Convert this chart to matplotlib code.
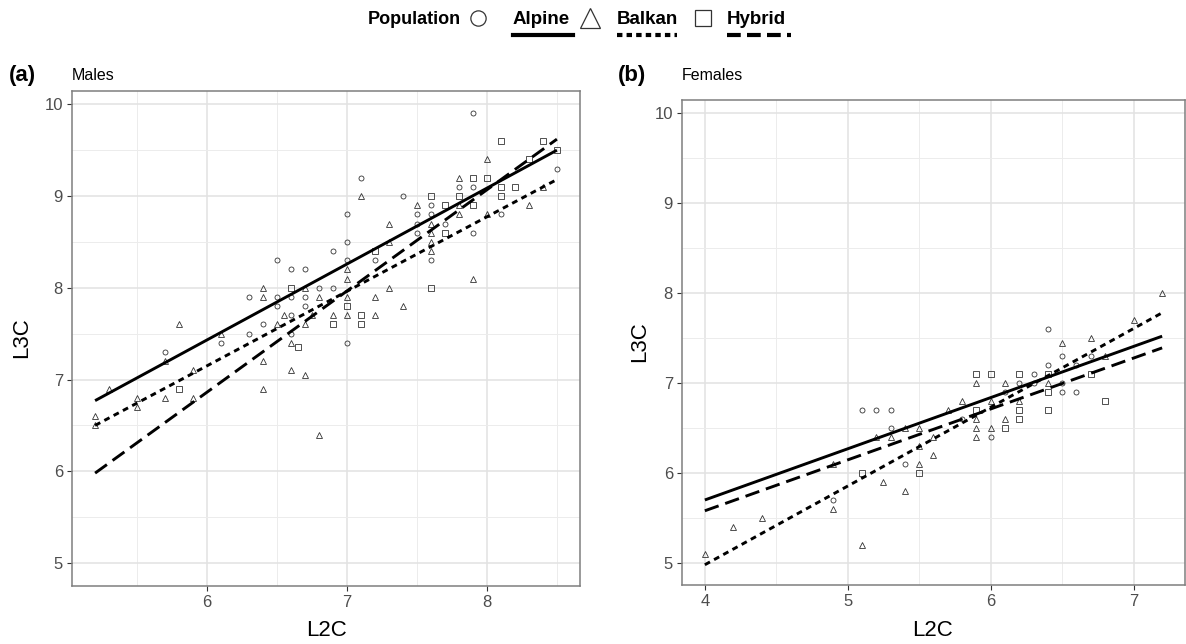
import numpy as np
import matplotlib.pyplot as plt
from matplotlib.lines import Line2D

plt.rcParams['font.family'] = ['Liberation Sans', 'DejaVu Sans']

# ---- panel (a) Males ----
a_alp_x = [7.9, 8.5, 7.1, 7.8, 7.9, 7.4, 7.6, 7.0, 7.5, 7.6, 8.1, 7.7, 7.5, 7.5, 7.9, 7.0, 6.9, 6.5, 7.0,
           7.2, 7.6, 6.6, 6.7, 6.8, 6.9, 6.3, 6.5, 6.6, 6.7, 6.5, 6.7, 6.6, 6.4, 6.3, 6.6, 6.1, 7.0, 5.7]
a_alp_y = [9.9, 9.3, 9.2, 9.1, 9.1, 9.0, 8.9, 8.8, 8.8, 8.8, 8.8, 8.7, 8.7, 8.6, 8.6, 8.5, 8.4, 8.3, 8.3,
           8.3, 8.3, 8.2, 8.2, 8.0, 8.0, 7.9, 7.9, 7.9, 7.9, 7.8, 7.8, 7.7, 7.6, 7.5, 7.5, 7.4, 7.4, 7.3]
a_bal_x = [8.0, 7.1, 7.8, 8.4, 7.3, 7.5, 7.8, 8.3, 7.8, 8.0, 7.6, 7.6, 7.6, 7.3, 7.6, 7.0, 7.0, 7.9, 6.4,
           6.7, 7.3, 6.4, 6.8, 7.0, 7.2, 7.4, 6.55, 6.75, 6.9, 7.0, 7.2, 5.8, 6.5, 6.7, 6.1, 6.6, 5.7,
           6.4, 5.9, 6.6, 6.7, 5.3, 6.4, 5.5, 5.7, 5.9, 5.5, 5.2, 5.2, 6.8]
a_bal_y = [9.4, 9.0, 9.2, 9.1, 8.7, 8.9, 8.9, 8.9, 8.8, 8.8, 8.7, 8.6, 8.5, 8.5, 8.4, 8.2, 8.1, 8.1, 8.0,
           8.0, 8.0, 7.9, 7.9, 7.9, 7.9, 7.8, 7.7, 7.7, 7.7, 7.7, 7.7, 7.6, 7.6, 7.6, 7.5, 7.4, 7.2,
           7.2, 7.1, 7.1, 7.05, 6.9, 6.9, 6.8, 6.8, 6.8, 6.7, 6.6, 6.5, 6.4]
a_hyb_x = [8.1, 8.4, 8.5, 8.3, 7.9, 8.0, 8.1, 8.2, 7.6, 7.8, 8.1, 7.7, 7.9, 7.7, 7.2, 7.6, 6.6, 7.0, 7.1,
           6.9, 7.1, 6.65, 5.8]
a_hyb_y = [9.6, 9.6, 9.5, 9.4, 9.2, 9.2, 9.1, 9.1, 9.0, 9.0, 9.0, 8.9, 8.9, 8.6, 8.4, 8.0, 8.0, 7.8, 7.7,
           7.6, 7.6, 7.35, 6.9]
# fitted lines (ends)
a_fit_x = [5.2, 8.5]
a_fit_alp = [6.77, 9.50]
a_fit_bal = [6.50, 9.18]
a_fit_hyb = [5.98, 9.62]

# ---- panel (b) Females ----
b_alp_x = [6.4, 6.5, 6.7, 6.4, 6.6, 6.3, 6.2, 6.3, 6.5, 6.1, 6.5, 6.6, 5.1, 5.2, 5.3, 5.8, 5.3, 6.0, 5.4, 4.9]
b_alp_y = [7.6, 7.3, 7.3, 7.2, 7.2, 7.1, 7.0, 7.0, 7.0, 6.9, 6.9, 6.9, 6.7, 6.7, 6.7, 6.6, 6.5, 6.4, 6.1, 5.7]
b_bal_x = [7.2, 7.0, 6.7, 6.5, 6.8, 5.9, 6.1, 6.4, 5.8, 6.0, 6.2, 5.7, 5.9, 6.1, 5.4, 5.5, 5.9, 6.0, 5.2,
           5.3, 5.6, 5.9, 5.5, 5.6, 4.9, 5.5, 5.25, 5.4, 4.9, 4.4, 4.2, 5.1, 4.0]
b_bal_y = [8.0, 7.7, 7.5, 7.45, 7.3, 7.0, 7.0, 7.0, 6.8, 6.8, 6.8, 6.7, 6.6, 6.6, 6.5, 6.5, 6.5, 6.5, 6.4,
           6.4, 6.4, 6.4, 6.3, 6.2, 6.1, 6.1, 5.9, 5.8, 5.6, 5.5, 5.4, 5.2, 5.1]
b_hyb_x = [5.9, 6.0, 6.2, 6.4, 6.7, 5.9, 6.2, 6.4, 6.2, 6.4, 6.1, 6.8, 5.1, 5.5]
b_hyb_y = [7.1, 7.1, 7.1, 7.1, 7.1, 6.7, 6.7, 6.7, 6.6, 6.9, 6.5, 6.8, 6.0, 6.0]
b_fit_x = [4.0, 7.2]
b_fit_alp = [5.70, 7.52]
b_fit_bal = [4.98, 7.78]
b_fit_hyb = [5.58, 7.39]

W, H = 1186, 644
fig = plt.figure(figsize=(W / 100, H / 100), dpi=100)


def px(x, y):
    return x / W, 1 - y / H


def style_axes(ax, xlim, xticks):
    ax.set_xticks(xticks)
    ax.set_yticks([5, 6, 7, 8, 9, 10])
    ax.set_xticks(np.arange(xticks[0] - 0.5, xticks[-1] + 1, 1.0), minor=True)
    ax.set_yticks(np.arange(4.5, 10.5, 1.0), minor=True)
    # limits after ticks, set_xticks would widen them
    ax.set_xlim(*xlim)
    ax.set_ylim(4.755, 10.145)
    ax.grid(True, which='major', color='#e2e2e2', linewidth=1.1, zorder=0)
    ax.grid(True, which='minor', color='#ececec', linewidth=0.7, zorder=0)
    ax.tick_params(which='major', length=3.5, width=0.8, color='#333333',
                   labelsize=12, labelcolor='#4d4d4d', pad=3)
    ax.tick_params(which='minor', length=0)
    for s in ax.spines.values():
        s.set_color('#7f7f7f')
        s.set_linewidth(1.1)
    ax.set_axisbelow(True)


def draw(ax, alp, bal, hyb, fx, fits):
    mk = dict(linestyle='none', markerfacecolor='none', markeredgecolor='#333333',
              markeredgewidth=0.6, zorder=3)
    ax.plot(alp[0], alp[1], marker='o', markersize=3.6, **mk)
    ax.plot(bal[0], bal[1], marker='^', markersize=4.6, **mk)
    ax.plot(hyb[0], hyb[1], marker='s', markersize=3.8, **mk)
    ax.plot(fx, fits[0], color='black', linewidth=2.1, solid_capstyle='butt', zorder=4)
    ax.plot(fx, fits[1], color='black', linewidth=2.1, dashes=(2.0, 1.6), zorder=4)
    ax.plot(fx, fits[2], color='black', linewidth=2.1, dashes=(5.0, 2.4), zorder=4)


# panel a
l, t, r, b = 72, 91, 580, 585.5
ax1 = fig.add_axes([l / W, 1 - b / H, (r - l) / W, (b - t) / H])
style_axes(ax1, (5.035, 8.665), [6, 7, 8])
draw(ax1, (a_alp_x, a_alp_y), (a_bal_x, a_bal_y), (a_hyb_x, a_hyb_y),
     a_fit_x, (a_fit_alp, a_fit_bal, a_fit_hyb))

# panel b
l, t, r, b = 682, 100, 1185, 585
ax2 = fig.add_axes([l / W, 1 - b / H, (r - l) / W, (b - t) / H])
style_axes(ax2, (3.84, 7.36), [4, 5, 6, 7])
draw(ax2, (b_alp_x, b_alp_y), (b_bal_x, b_bal_y), (b_hyb_x, b_hyb_y),
     b_fit_x, (b_fit_alp, b_fit_bal, b_fit_hyb))

# panel tags, subtitles and axis titles
fig.text(*px(9, 76), '(a)', fontsize=16, fontweight='bold', va='center', ha='left')
fig.text(*px(72, 76), 'Males', fontsize=11.5, va='center', ha='left')
fig.text(*px(618, 76), '(b)', fontsize=16, fontweight='bold', va='center', ha='left')
fig.text(*px(682, 76), 'Females', fontsize=11.5, va='center', ha='left')
fig.text(*px(22, 338), 'L3C', fontsize=16, rotation=90, va='center', ha='center')
fig.text(*px(640, 342), 'L3C', fontsize=16, rotation=90, va='center', ha='center')
fig.text(*px(326, 630), 'L2C', fontsize=16, va='center', ha='center')
fig.text(*px(933, 630), 'L2C', fontsize=16, va='center', ha='center')

# legend on top
fig.text(*px(368, 20), 'Population', fontsize=13, fontweight='bold', va='center', ha='left')
leg_items = [('Alpine', 'o', 11, 478, 513, 573, '-'),
             ('Balkan', '^', 14, 590, 617, 677, (0, (1.3, 1.0))),
             ('Hybrid', 's', 11, 703, 727, 791, (0, (3.3, 1.5)))]
for name, m, ms, mx, tx0, tx1, ls in leg_items:
    fig.add_artist(Line2D([mx / W], [1 - 18 / H], marker=m, markersize=ms,
                          markerfacecolor='none', markeredgecolor='#333333',
                          markeredgewidth=0.9, linestyle='none'))
    fig.text(*px(tx0, 20), name, fontsize=13.5, fontweight='bold', va='center', ha='left')
    fig.add_artist(Line2D([tx0 / W, tx1 / W], [1 - 35 / H, 1 - 35 / H], color='black',
                          linewidth=3, linestyle=ls))

fig.savefig('out.png', dpi=100)
